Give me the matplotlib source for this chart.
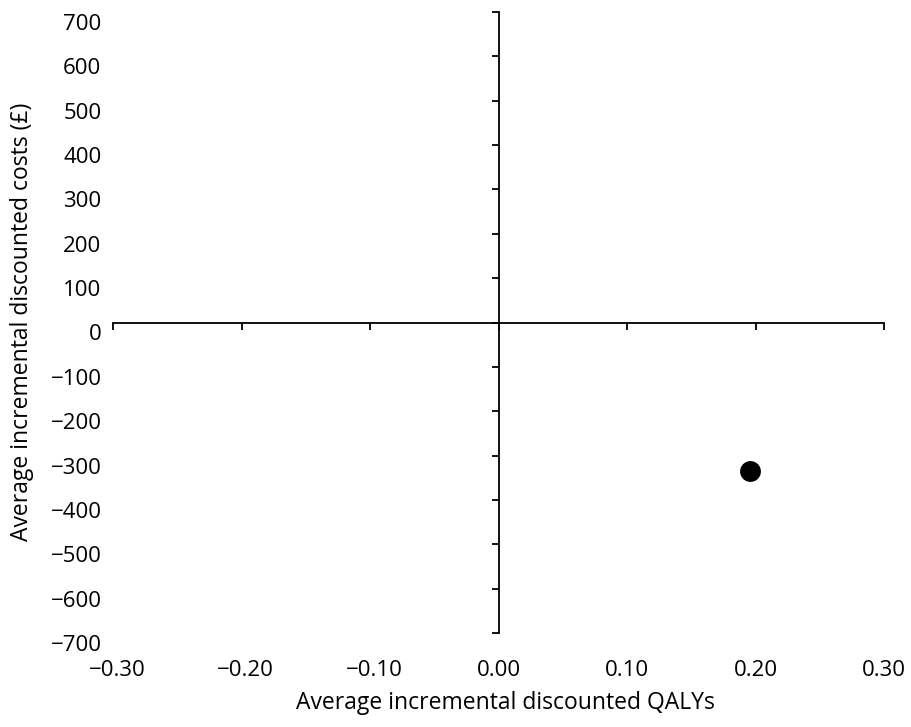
import matplotlib
matplotlib.use("Agg")
import matplotlib.pyplot as plt
from matplotlib.transforms import ScaledTranslation

plt.rcParams['font.family'] = ['Open Sans', 'DejaVu Sans']

# Data
qaly_values = [0.196]
cost_values = [-335]
x_ticks = [-0.30, -0.20, -0.10, 0.00, 0.10, 0.20, 0.30]
x_tick_labels = ['\u22120.30', '\u22120.20', '\u22120.10', '0.00', '0.10', '0.20', '0.30']
y_ticks = [700, 600, 500, 400, 300, 200, 100, 0, -100, -200, -300, -400, -500, -600, -700]
y_tick_labels = ['700', '600', '500', '400', '300', '200', '100', '0',
                 '\u2212100', '\u2212200', '\u2212300', '\u2212400', '\u2212500', '\u2212600', '\u2212700']
x_label = 'Average incremental discounted QALYs'
y_label = 'Average incremental discounted costs (£)'

W, H = 911, 727
fig = plt.figure(figsize=(W / 100, H / 100), dpi=100)
ax = fig.add_axes([113 / W, 1 - 633 / H, (884 - 113) / W, (633 - 12) / H])

ax.set_xlim(-0.30, 0.30)
ax.set_ylim(-700, 700)

ax.scatter(qaly_values, cost_values, s=225, color='black', zorder=5, linewidths=0)

for s in ['top', 'right']:
    ax.spines[s].set_visible(False)
ax.spines['left'].set_position(('data', 0))
ax.spines['bottom'].set_position(('data', 0))
for s in ['left', 'bottom']:
    ax.spines[s].set_linewidth(1.3)
    ax.spines[s].set_color('black')

ax.set_xticks(x_ticks)
ax.set_xticklabels(x_tick_labels)
ax.set_yticks(y_ticks)
ax.set_yticklabels(y_tick_labels)

fs_tick = 16
fs_lab = 16.5
px = 72 / 100  # points per pixel
ax.tick_params(axis='y', direction='out', length=7 * px, width=1.3, labelsize=fs_tick,
               pad=(497 - 7 - 100) * px)
ax.tick_params(axis='x', direction='out', length=7 * px, width=1.3, labelsize=fs_tick,
               pad=(662 - 324 - 7) * px)

off = ScaledTranslation(0, -10 / 100, fig.dpi_scale_trans)
for lab in ax.get_yticklabels():
    lab.set_transform(lab.get_transform() + off)
off_x = ScaledTranslation(4 / 100, 0, fig.dpi_scale_trans)
for lab in ax.get_xticklabels():
    if lab.get_text().startswith('\u2212'):
        lab.set_transform(lab.get_transform() + off_x)

fig.text(505 / W, 1 - 703 / H, x_label, ha='center', va='center', fontsize=fs_lab)
fig.text(22 / W, 1 - 322 / H, y_label, ha='center', va='center', rotation=90, fontsize=fs_lab)

fig.savefig('out.png', dpi=100)
